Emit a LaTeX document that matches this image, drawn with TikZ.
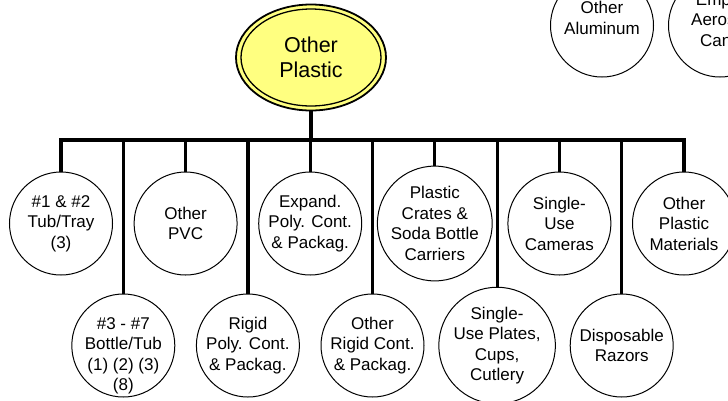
\documentclass[tikz,border=0pt]{standalone}
\usepackage{fontspec}
\setmainfont{Liberation Sans}
\usetikzlibrary{shapes.geometric}
\definecolor{rootyellow}{RGB}{255,255,128}
\tikzset{
  leaf/.style={circle,draw=black,line width=1pt,minimum size=103pt,inner sep=0pt,
    align=center,font=\fontsize{17}{20.5}\selectfont,fill=white},
  leaftext/.style={align=center,font=\fontsize{17}{20.5}\selectfont,inner sep=0pt},
  rootnode/.style={ellipse,draw=black,line width=1.8pt,fill=rootyellow,
    minimum width=150pt,minimum height=106pt,inner sep=0pt,align=center,
    font=\fontsize{21.5}{25}\selectfont},
  conn/.style={line width=3.2pt,line cap=rect}
}
\begin{document}
\begin{tikzpicture}[x=1pt,y=-1pt]
\useasboundingbox (0,0) rectangle (728,400);
\clip (0,0) rectangle (728,400);
\fill[white] (0,0) rectangle (728,400);
% root
\node[rootnode] (root) at (311,57.5) {Other\\Plastic};
\draw[line width=1.3pt] (root.center) ellipse (70 and 48.5);
% top-right neighbours (cut off)
\node[leaf] (alu) at (602,25.5) {};
\node[leaftext] (alut) at (602,18) {Other\\Aluminum};
\node[leaf] (aer) at (720,25.5) {};
\node[leaftext] (aert) at (720,20) {Empty\\Aerosol\\Cans};
% bar coordinate
\coordinate (bar) at (0,140);
% top row
\node[leaf] (t1) at (61,223.5) {\#1 \& \#2\\Tub/Tray\\(3)};
\node[leaf] (t2) at (185.6,223.5) {Other\\PVC};
\node[leaf] (t3) at (310.2,223.5) {Expand.\\Poly. Cont.\\\& Packag.};
\node[leaf] (t4) at (434.8,223.5) {Plastic\\Crates \&\\Soda Bottle\\Carriers};
\node[leaf] (t5) at (559.4,223.5) {Single-\\Use\\Cameras};
\node[leaf] (t6) at (684,223.5) {Other\\Plastic\\Materials};
% bottom row
\node[leaf] (b1) at (123.3,345.5) {};
\node[leaftext] (b1t) at (123.3,356) {\#3 - \#7\\Bottle/Tub\\(1) (2) (3)\\(8)};
\node[leaf] (b2) at (247.9,345.5) {Rigid\\Poly. Cont.\\\& Packag.};
\node[leaf] (b3) at (372.5,345.5) {Other\\Rigid Cont.\\\& Packag.};
\node[leaf] (b4) at (497.1,345.5) {Single-\\Use Plates,\\Cups,\\Cutlery};
\node[leaf] (b5) at (621.7,345.5) {Disposable\\Razors};
% connectors
\draw[conn] (root.south) -- (root.south |- bar);
\draw[conn] (t1.north |- bar) -- (t6.north |- bar);
\foreach \n in {t1,t2,t3,t4,t5,t6}{
  \draw[conn,line cap=butt] (\n.north) -- (\n.north |- bar);
}
\foreach \n in {b1,b2,b3,b4,b5}{
  \draw[conn,line cap=butt] (\n.north) -- (\n.north |- bar);
}
\end{tikzpicture}
\end{document}
